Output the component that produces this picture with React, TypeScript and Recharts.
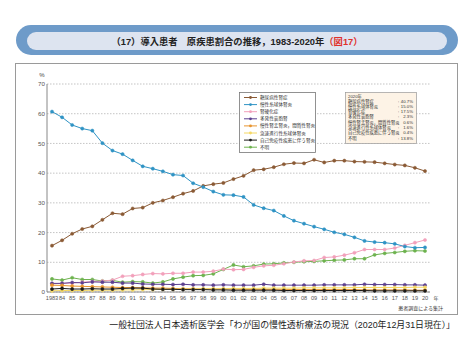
import React from 'react';
import { LineChart, Line, XAxis, YAxis, CartesianGrid } from 'recharts';

const years = [1983,1984,1985,1986,1987,1988,1989,1990,1991,1992,1993,1994,1995,1996,1997,1998,1999,2000,2001,2002,2003,2004,2005,2006,2007,2008,2009,2010,2011,2012,2013,2014,2015,2016,2017,2018,2019,2020];
const yearLabels = ['1983','84','85','86','87','88','89','90','91','92','93','94','95','96','97','98','99','00','01','02','03','04','05','06','07','08','09','10','11','12','13','14','15','16','17','18','19','20'];
const yTicks = [0,10,20,30,40,50,60,70];

const diabetic = [15.6,17.4,19.6,21.2,22.1,24.3,26.5,26.2,28.1,28.4,30.0,30.8,31.9,33.1,34.0,35.7,36.3,36.7,38.0,39.1,41.0,41.3,42.0,43.0,43.4,43.3,44.5,43.6,44.2,44.2,43.9,43.8,43.7,43.3,42.9,42.6,41.8,40.7];
const glomerulo = [60.7,58.8,56.2,55.0,54.3,50.1,47.6,46.4,44.3,42.3,41.5,40.6,39.5,39.2,36.6,35.3,33.8,32.7,32.6,32.0,29.3,28.2,27.4,25.6,24.0,23.0,22.0,21.1,20.1,19.4,18.4,17.2,16.8,16.6,16.2,15.3,14.9,15.0];
const sclerosis = [2.8,2.9,3.0,3.3,3.5,3.7,4.0,5.3,5.5,5.9,6.2,6.1,6.3,6.3,6.7,6.7,7.0,7.7,7.5,7.6,8.3,8.8,9.0,9.5,10.1,10.5,10.6,11.6,11.8,12.4,13.2,14.3,14.3,14.3,14.8,15.7,16.6,17.5];
const polycystic = [2.9,2.9,3.2,3.1,3.4,3.3,3.3,3.0,3.0,2.7,2.6,2.6,2.5,2.6,2.4,2.4,2.3,2.4,2.3,2.3,2.3,2.6,2.3,2.3,2.3,2.3,2.3,2.4,2.4,2.4,2.4,2.6,2.5,2.5,2.5,2.4,2.4,2.3];
const pyelo = [2.3,2.2,2.0,1.9,1.8,1.7,1.6,1.5,1.5,1.4,1.3,1.3,1.2,1.1,1.1,1.0,1.0,1.0,1.0,0.9,0.9,0.9,0.9,0.9,0.8,0.8,0.8,0.8,0.8,0.8,0.8,0.7,0.7,0.7,0.7,0.7,0.6,0.6];
const rpgn = [0.4,0.5,0.5,0.5,0.6,0.6,0.6,0.7,0.7,0.8,0.8,0.9,0.9,1.0,1.0,1.1,1.1,1.1,1.2,1.2,1.2,1.3,1.3,1.3,1.3,1.4,1.4,1.4,1.4,1.4,1.5,1.5,1.5,1.5,1.5,1.5,1.6,1.6];
const autoimmune = [1.0,1.2,1.0,1.0,1.1,1.0,1.0,1.2,1.3,1.3,1.0,0.9,0.9,0.8,0.8,0.8,0.7,0.7,0.6,0.6,0.6,0.6,0.6,0.5,0.5,0.5,0.5,0.5,0.5,0.5,0.5,0.5,0.4,0.4,0.4,0.4,0.4,0.4];
const unknown = [4.4,4.0,4.8,4.2,4.2,3.7,3.9,3.3,3.5,3.4,3.0,3.4,4.4,5.0,5.5,5.6,6.1,7.6,9.1,8.5,8.8,9.4,9.5,9.8,10.0,10.2,10.3,10.5,10.7,10.8,11.2,11.2,12.5,13.0,13.3,13.7,13.9,13.8];

const seriesNames = ['糖尿病性腎症','慢性糸球体腎炎','腎硬化症','多発性嚢胞腎','慢性腎盂腎炎，間質性腎炎','急速進行性糸球体腎炎','自己免疫性疾患に伴う腎炎','不明'];
const seriesKeys = ['diabetic','glomerulo','sclerosis','polycystic','pyelo','rpgn','autoimmune','unknown'];
const seriesColors = ['#8a5a35','#2f93c4','#f2a0bb','#5b3f8f','#e8952e','#f5d865','#1a1a1a','#6db24e'];
const seriesValues = [diabetic, glomerulo, sclerosis, polycystic, pyelo, rpgn, autoimmune, unknown];
const values2020 = ['40.7%','15.0%','17.5%','2.3%','0.6%','1.6%','0.4%','13.8%'];

const data = years.map((y, i) => {
  const row: Record<string, number | string> = { year: y, label: yearLabels[i] };
  seriesKeys.forEach((k, j) => { row[k] = seriesValues[j][i]; });
  return row;
});

const drawOrder = [7, 2, 3, 4, 5, 6, 0, 1];
const FONT = '"Liberation Sans", "Noto Sans CJK JP", sans-serif';

export default function App() {
  return (
    <div style={{ position: 'absolute', left: 0, top: 0, width: 474, height: 355, background: '#fff', fontFamily: FONT, overflow: 'hidden' }}>
      <div style={{ position: 'absolute', left: 16, top: 25, width: 442, height: 30, background: '#6e9bc9', borderRadius: 15 }} />
      <div style={{ position: 'absolute', left: 27, top: 32, width: 420, height: 18, background: '#dde4f0', borderRadius: 9 }} />
      <svg width={474} height={355} style={{ position: 'absolute', left: 0, top: 0 }}>
        <text x={237} y={42} textAnchor="middle" dominantBaseline="central" fontSize={9.3} fontWeight="bold" fill="#222" fontFamily={FONT}>
          （17）導入患者　原疾患割合の推移，1983-2020年<tspan fill="#e0302a">（図17）</tspan>
        </text>
        <rect x={15.5} y={63.5} width={442} height={251} fill="none" stroke="#9a9a9a" strokeWidth={1} />
        <text x={42} y={75} textAnchor="middle" dominantBaseline="central" fontSize={6} fill="#444">%</text>
        <text x={436} y={298} textAnchor="middle" dominantBaseline="central" fontSize={5} fill="#444">年</text>
        <text x={443} y={308} textAnchor="end" dominantBaseline="central" fontSize={5} fill="#333">患者調査による集計</text>
        <text x={455} y={325} textAnchor="end" dominantBaseline="central" fontSize={8.9} fill="#222">一般社団法人日本透析医学会「わが国の慢性透析療法の現況（2020年12月31日現在）」</text>
      </svg>
      <div style={{ position: 'absolute', left: 0, top: 0 }}>
        <LineChart width={474} height={355} data={data} margin={{ top: 84, right: 44, bottom: 43, left: 17 }}>
          <CartesianGrid vertical={false} stroke="#aaa" strokeDasharray="1.5 1.5" strokeWidth={0.7} />
          <XAxis dataKey="label" interval={0} padding={{ left: 5, right: 5 }} height={20} tickLine={false} tickSize={2} tickMargin={2}
            axisLine={{ stroke: '#888' }} tick={{ fontSize: 5.6, fill: '#555', fontFamily: FONT }} />
          <XAxis xAxisId="top" dataKey="label" orientation="top" height={0} tick={false} tickLine={false} axisLine={{ stroke: '#888' }} />
          <YAxis domain={[0, 70]} ticks={yTicks} width={30} tickLine={false} tickSize={2} tickMargin={0} interval={0}
            axisLine={{ stroke: '#888' }} tick={{ fontSize: 6.2, fill: '#555', fontFamily: FONT }} />
          <YAxis yAxisId="right" orientation="right" domain={[0, 70]} width={0} tick={false} tickLine={false} axisLine={{ stroke: '#888' }} />
          {drawOrder.map((j) => (
            <Line key={seriesKeys[j]} type="linear" dataKey={seriesKeys[j]} stroke={seriesColors[j]} strokeWidth={1}
              dot={{ r: 1.6, fill: seriesColors[j], stroke: seriesColors[j], strokeWidth: 0.5 }} isAnimationActive={false} />
          ))}
        </LineChart>
      </div>
      <svg width={474} height={355} style={{ position: 'absolute', left: 0, top: 0, pointerEvents: 'none' }}>
        <rect x={239.5} y={92.5} width={76} height={60} fill="#fff" stroke="#777" strokeWidth={0.8} />
        {seriesNames.map((n, i) => {
          const y = 97.5 + i * 7.1;
          return (
            <g key={n}>
              <line x1={244} x2={257} y1={y} y2={y} stroke={seriesColors[i]} strokeWidth={1} />
              <circle cx={250.5} cy={y} r={1.4} fill={seriesColors[i]} />
              <text x={260} y={y} dominantBaseline="central" fontSize={4.6} fill="#333" fontFamily={FONT}>{n}</text>
            </g>
          );
        })}
        <rect x={345.5} y={92.5} width={71} height={51} fill="#fdf3e6" stroke="#999" strokeWidth={0.7} />
        <text x={348} y={96} dominantBaseline="central" fontSize={4.3} fill="#333" fontFamily={FONT}>2020年</text>
        {seriesNames.map((n, i) => {
          const y = 101 + i * 5.3;
          return (
            <g key={'v' + n}>
              <text x={348} y={y} dominantBaseline="central" fontSize={4.3} fill="#333" fontFamily={FONT}>{n}</text>
              <text x={398} y={y} dominantBaseline="central" fontSize={4.3} fill="#333" fontFamily={FONT}>:</text>
              <text x={413} y={y} textAnchor="end" dominantBaseline="central" fontSize={4.3} fill="#333" fontFamily={FONT}>{values2020[i]}</text>
            </g>
          );
        })}
      </svg>
    </div>
  );
}
